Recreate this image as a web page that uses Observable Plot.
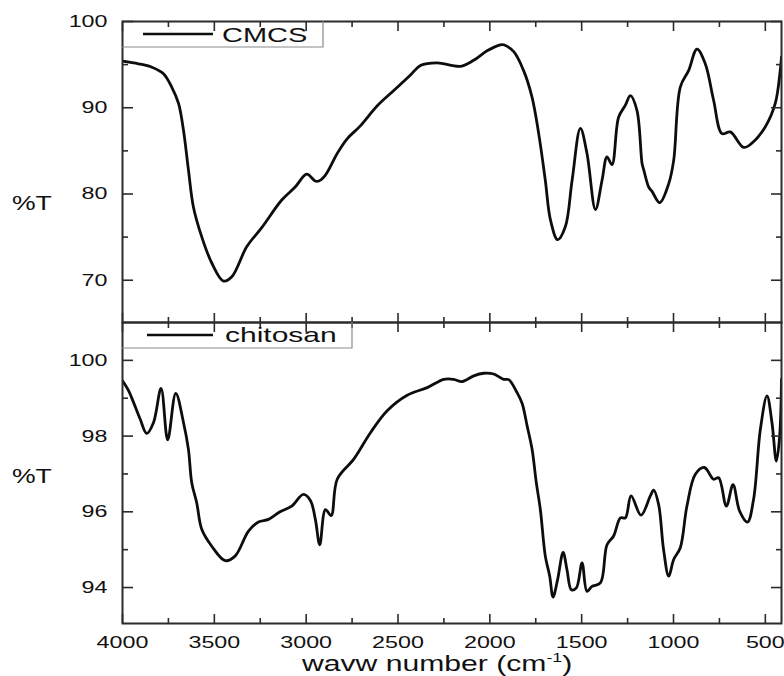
<!DOCTYPE html>
<html><head><meta charset="utf-8">
<script src="https://cdn.jsdelivr.net/npm/d3@7"></script>
<script src="https://cdn.jsdelivr.net/npm/@observablehq/plot@0.6"></script>
<style>
body{margin:0;background:#fff;}
#wrap{position:relative;width:784px;height:676px;overflow:hidden;font-family:"Liberation Sans",Arial,sans-serif;background:#fff;}
#wrap svg{position:absolute;left:0;}
</style></head><body><div id="wrap"></div>
<script>
// ---- data ----
const cmcsWavenumber = [4000,3913,3840,3777,3732,3695,3668,3641,3614,3568,3514,3450,3405,3323,3242,3133,3060,2997,2951,2932,2895,2831,2777,2705,2614,2523,2432,2378,2287,2160,2088,2015,1943,1925,1870,1816,1770,1734,1698,1670,1631,1589,1552,1507,1471,1425,1389,1362,1335,1299,1262,1235,1199,1171,1162,1135,1117,1075,1026,999,963,918,872,827,782,736,691,618,573,500,446,419,412];
const cmcsT = [95.4,95.1,94.7,93.95,92.4,90.5,87.4,82.8,78.5,75.0,72.0,69.9,70.4,73.9,76.1,79.3,80.8,82.3,81.5,81.5,82.2,84.7,86.4,87.9,90.2,92.0,93.8,94.9,95.2,94.8,95.5,96.6,97.3,97.3,96.5,94.3,91.2,87.0,81.6,77.0,74.7,76.2,81.6,87.6,84.7,78.2,81.6,84.3,83.4,88.9,90.3,91.4,89.7,83.5,82.8,80.8,80.3,79.0,81.2,83.9,92.4,94.3,96.8,95.1,90.9,87.0,87.2,85.4,85.9,87.8,90.5,94.3,95.9];

const chitosanWavenumber = [4000,3967,3940,3904,3868,3831,3790,3754,3710,3668,3641,3623,3596,3568,3514,3441,3387,3314,3260,3205,3142,3079,3015,2977,2950,2926,2895,2864,2831,2741,2650,2559,2450,2341,2251,2197,2151,2088,2033,1979,1925,1897,1852,1824,1797,1770,1747,1725,1698,1674,1656,1631,1601,1580,1556,1529,1498,1471,1444,1398,1362,1326,1289,1262,1231,1177,1126,1108,1081,1054,1026,999,963,927,881,832,782,754,712,676,640,597,564,527,491,464,440,422,412];
const chitosanT = [99.46,99.2,98.89,98.45,98.07,98.36,99.26,97.9,99.13,98.36,97.65,96.77,96.24,95.53,95.09,94.71,94.83,95.49,95.73,95.8,96.0,96.15,96.46,96.3,95.8,95.13,96.06,95.9,96.86,97.39,98.09,98.67,99.08,99.28,99.5,99.5,99.44,99.59,99.66,99.64,99.5,99.49,99.15,98.86,98.27,97.65,96.77,96.06,94.83,94.3,93.75,94.21,94.93,94.47,93.94,93.99,94.65,93.9,94.03,94.12,95.13,95.36,95.84,95.84,96.42,95.91,96.42,96.57,96.19,95.0,94.3,94.74,95.05,96.15,96.99,97.17,96.86,96.9,96.15,96.72,96.02,95.73,96.33,98.18,99.06,98.36,97.34,98.0,99.5];

const xMajorTicks = [4000,3500,3000,2500,2000,1500,1000,500];
const xMinorTicks = [3750,3250,2750,2250,1750,1250,750];
const cmcsMajorTicks = [70,80,90,100];
const cmcsMinorTicks = [75,85,95];
const chitosanMajorTicks = [94,96,98,100];
const chitosanMinorTicks = [95,97,99];
const seriesNames = ["CMCS","chitosan"];
const yLabel = "%T";
const xLabelMain = "wavw number (cm";
const xLabelSup = "-1";
const xLabelEnd = ")";

const xDomain = [4000, 412];
const ink = "#2b2b2b";
const FONT = "Liberation Sans, Arial, sans-serif";
const STRETCH = 1.37;

function stretchTexts(svg, s) {
  svg.querySelectorAll("text").forEach(t => {
    const x = +(t.getAttribute("x") || 0);
    const tr = t.getAttribute("transform") || "";
    t.setAttribute("transform", `${tr} translate(${x},0) scale(${s},1) translate(${-x},0)`);
  });
}

function panel({wn, t, yDomain, yMajor, yMinor, height, marginTop, marginBottom, xLabels}) {
  const data = wn.map((w, i) => ({w, t: t[i]}));
  const blank = () => "";
  const tk = {tickFormat: blank, stroke: ink, strokeWidth: 1.6, label: null};
  const marks = [
    Plot.line(data, {x: "w", y: "t", stroke: "#0d0d0d", strokeWidth: 2.8, curve: "catmull-rom", clip: true}),
    // inward ticks: ticks drawn outward, then shifted inside the frame
    Plot.axisX({anchor: "bottom", ticks: xMajorTicks, tickSize: 9, dy: -9, ...tk}),
    Plot.axisX({anchor: "bottom", ticks: xMinorTicks, tickSize: 5, dy: -5, ...tk}),
    Plot.axisX({anchor: "top", ticks: xMajorTicks, tickSize: 9, dy: 9, ...tk}),
    Plot.axisX({anchor: "top", ticks: xMinorTicks, tickSize: 5, dy: 5, ...tk}),
    Plot.axisY({anchor: "left", ticks: yMajor, tickSize: 11, dx: 11, ...tk}),
    Plot.axisY({anchor: "left", ticks: yMinor, tickSize: 6, dx: 6, ...tk}),
    Plot.axisY({anchor: "right", ticks: yMajor, tickSize: 11, dx: -11, ...tk}),
    Plot.axisY({anchor: "right", ticks: yMinor, tickSize: 6, dx: -6, ...tk}),
    Plot.axisY({anchor: "left", ticks: yMajor, tickSize: 0, tickPadding: 15, fontSize: 17, fill: "#111", tickFormat: d => String(d), label: null}),
    Plot.frame({stroke: ink, strokeWidth: 2})
  ];
  if (xLabels) marks.push(Plot.axisX({anchor: "bottom", ticks: xMajorTicks, tickSize: 0, tickPadding: 12, fontSize: 17, fill: "#111", tickFormat: d => String(d), label: null}));
  return Plot.plot({
    width: 784, height, marginTop, marginBottom, marginLeft: 122, marginRight: 3,
    style: {fontFamily: FONT, background: "transparent", overflow: "visible"},
    x: {domain: xDomain},
    y: {domain: yDomain},
    marks
  });
}

const wrap = document.getElementById("wrap");
const topPanel = panel({wn: cmcsWavenumber, t: cmcsT, yDomain: [65.1, 100], yMajor: cmcsMajorTicks, yMinor: cmcsMinorTicks, height: 323, marginTop: 21, marginBottom: 1, xLabels: false});
topPanel.style.top = "0px";
const bottomPanel = panel({wn: chitosanWavenumber, t: chitosanT, yDomain: [93.05, 101], yMajor: chitosanMajorTicks, yMinor: chitosanMinorTicks, height: 355, marginTop: 1, marginBottom: 53, xLabels: true});
bottomPanel.style.top = "321px";
wrap.appendChild(topPanel);
wrap.appendChild(bottomPanel);
stretchTexts(topPanel, STRETCH);
stretchTexts(bottomPanel, STRETCH);

const ov = d3.select(wrap).append("svg").attr("width", 784).attr("height", 676).style("top", "0px").style("font-family", FONT);
function legend(x2, yTop, yBot, lx1, lx2, tx, ty, label, s) {
  ov.append("path").attr("d", `M122,${yBot}H${x2}V${yTop}`).attr("fill", "none").attr("stroke", "#8a8a8a").attr("stroke-width", 1.2);
  ov.append("line").attr("x1", lx1).attr("x2", lx2).attr("y1", (yTop + yBot) / 2).attr("y2", (yTop + yBot) / 2).attr("stroke", "#0d0d0d").attr("stroke-width", 2.7);
  ov.append("text").attr("x", tx).attr("y", ty).attr("font-size", 20).attr("fill", "#111")
    .attr("transform", `translate(${tx},0) scale(${s},1) translate(${-tx},0)`).text(label);
}
legend(323, 21, 47, 143, 213, 222, 42, seriesNames[0], 1.45);
legend(352, 322, 348, 147, 213, 225, 342, seriesNames[1], 1.5);

for (const by of [210, 483]) {
  ov.append("text").attr("x", 12).attr("y", by).attr("font-size", 20).attr("fill", "#111")
    .attr("transform", `translate(12,0) scale(1.33,1) translate(-12,0)`).text(yLabel);
}
const title = ov.append("text").attr("x", 302).attr("y", 671).attr("font-size", 22).attr("fill", "#111")
  .attr("transform", `translate(302,0) scale(${STRETCH},1) translate(-302,0)`);
title.append("tspan").text(xLabelMain);
title.append("tspan").attr("dy", -9).attr("font-size", 13).text(xLabelSup);
title.append("tspan").attr("dy", 9).text(xLabelEnd);
</script></body></html>
